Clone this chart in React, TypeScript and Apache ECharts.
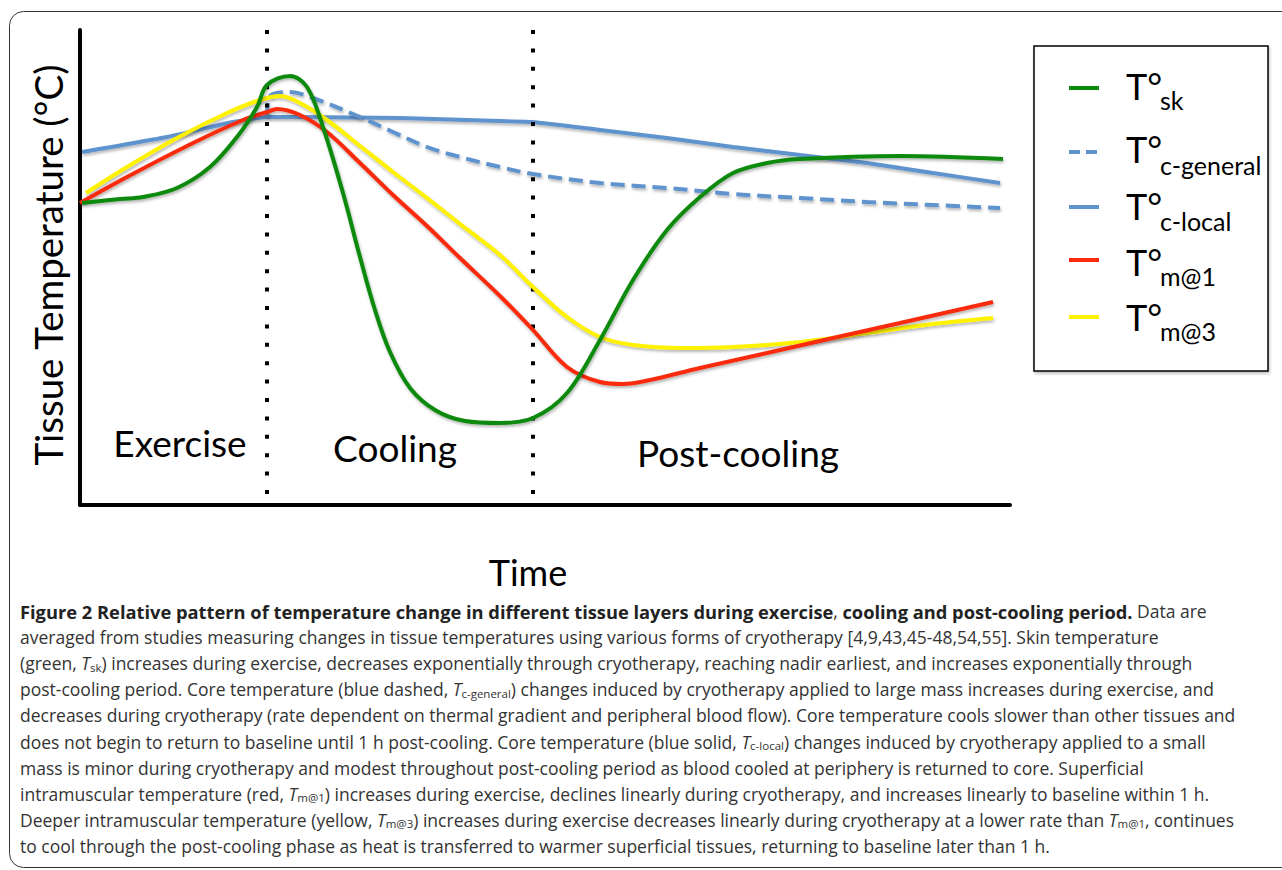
import React, { useEffect, useRef } from "react";
import * as echarts from "echarts";

// Time axis (arbitrary units) and relative tissue temperature (arbitrary units)
const phaseLabels = ["Exercise", "Cooling", "Post-cooling"];
const phaseBoundaries = [18.7, 45.3];
const seriesNames = ["T°sk", "T°c-general", "T°c-local", "T°m@1", "T°m@3"];
const legendMain = ["T°", "T°", "T°", "T°", "T°"];
const legendSub = ["sk", "c-general", "c-local", "m@1", "m@3"];

const skinTemp: [number, number][] = [
  [0.2, 60.4], [4.0, 61.2], [6.3, 61.6], [9.7, 63.4], [13.0, 67.6], [15.7, 73.6],
  [17.7, 79.6], [18.7, 84.0], [21.0, 85.8], [22.7, 83.6], [24.3, 75.6], [26.3, 62.4],
  [28.0, 49.6], [29.5, 39.0], [31.0, 30.6], [33.0, 23.4], [35.5, 19.0], [38.5, 16.8],
  [42.0, 16.4], [45.3, 17.4], [48.7, 22.4], [52.0, 33.0], [55.3, 45.0], [58.7, 55.0],
  [62.0, 61.6], [65.3, 66.4], [68.7, 68.4], [72.0, 69.2], [82.0, 69.8], [92.3, 69.2],
];
const coreGeneral: [number, number][] = [
  [18.7, 77.6], [19.0, 81.8], [21.0, 82.6], [23.3, 81.4], [28.0, 77.6], [31.3, 74.6],
  [34.7, 71.6], [38.0, 69.6], [42.0, 67.6], [45.3, 66.2], [52.0, 64.4], [58.7, 63.4],
  [65.3, 62.2], [72.0, 61.4], [78.7, 60.6], [85.3, 60.0], [92.0, 59.4],
];
const coreLocal: [number, number][] = [
  [0.2, 70.6], [8.7, 73.6], [15.3, 76.6], [18.7, 77.6], [22.0, 77.6], [32.0, 77.4],
  [42.0, 76.8], [45.3, 76.6], [52.0, 75.0], [58.7, 73.4], [65.3, 71.6], [72.0, 70.0],
  [78.7, 68.4], [85.3, 66.4], [92.0, 64.4],
];
const muscle1: [number, number][] = [
  [0.0, 60.4], [4.7, 65.6], [11.3, 72.4], [16.3, 77.0], [18.7, 78.6], [19.7, 79.2],
  [22.0, 78.0], [24.7, 74.6], [28.0, 68.4], [31.3, 62.0], [34.7, 55.8], [38.0, 49.4],
  [42.0, 41.8], [45.3, 35.0], [48.7, 27.6], [52.0, 24.6], [54.3, 24.2], [57.0, 25.0],
  [62.0, 27.4], [68.7, 30.4], [75.3, 33.4], [82.0, 36.4], [91.3, 40.6],
];
const muscle3: [number, number][] = [
  [0.6, 62.4], [4.7, 67.6], [9.7, 73.4], [14.7, 78.4], [18.0, 81.0], [20.0, 81.8],
  [22.0, 80.4], [24.7, 77.0], [28.0, 71.8], [31.3, 66.6], [34.7, 61.4], [38.0, 56.2],
  [42.0, 50.0], [45.3, 43.6], [48.7, 37.6], [52.0, 33.6], [55.3, 32.0], [60.3, 31.4],
  [65.3, 31.6], [72.0, 32.6], [78.7, 34.4], [85.3, 36.2], [91.3, 37.4],
];

const GREEN = "#0a8a0a";
const BLUE = "#5f93cd";
const RED = "#fa2a0c";
const YELLOW = "#fff200";
const colors = [GREEN, BLUE, BLUE, RED, YELLOW];
const dashed = [false, true, false, false, false];

const captionLines: string[] = [
  "{b|Figure 2 Relative pattern of temperature change in different tissue layers during exercise}{r|, }{b|cooling and post-cooling period.}{r| Data are}",
  "{r|averaged from studies measuring changes in tissue temperatures using various forms of cryotherapy [4,9,43,45-48,54,55]. Skin temperature}",
  "{r|(green, }{i|T}{s|sk}{r|) increases during exercise, decreases exponentially through cryotherapy, reaching nadir earliest, and increases exponentially through}",
  "{r|post-cooling period. Core temperature (blue dashed, }{i|T}{s|c-general}{r|) changes induced by cryotherapy applied to large mass increases during exercise, and}",
  "{r|decreases during cryotherapy (rate dependent on thermal gradient and peripheral blood flow). Core temperature cools slower than other tissues and}",
  "{r|does not begin to return to baseline until 1 h post-cooling. Core temperature (blue solid, }{i|T}{s|c-local}{r|) changes induced by cryotherapy applied to a small}",
  "{r|mass is minor during cryotherapy and modest throughout post-cooling period as blood cooled at periphery is returned to core. Superficial}",
  "{r|intramuscular temperature (red, }{i|T}{s|m@1}{r|) increases during exercise, declines linearly during cryotherapy, and increases linearly to baseline within 1 h.}",
  "{r|Deeper intramuscular temperature (yellow, }{i|T}{s|m@3}{r|) increases during exercise decreases linearly during cryotherapy at a lower rate than }{i|T}{s|m@1}{r|, continues}",
  "{r|to cool through the post-cooling phase as heat is transferred to warmer superficial tissues, returning to baseline later than 1 h.}",
];

const LABEL_FONT = "Lato, 'Open Sans', sans-serif";
const CAP_FONT = "'Open Sans', 'Noto Sans', sans-serif";

export default function App() {
  const ref = useRef<HTMLDivElement>(null);
  useEffect(() => {
    document.body.style.margin = "0";
    if (!ref.current) return;
    const chart = echarts.init(ref.current, undefined, { renderer: "svg" });
    const datasets = [skinTemp, coreGeneral, coreLocal, muscle1, muscle3];
    const shadow = {
      shadowColor: "rgba(0,0,0,0.3)",
      shadowBlur: 3,
      shadowOffsetX: 1,
      shadowOffsetY: 2,
    };
    // draw order: blue solid, blue dashed, yellow, red, green
    const order = [2, 1, 4, 3, 0];
    const series: any[] = order.map((idx, k) => ({
      type: "line",
      name: seriesNames[idx],
      data: datasets[idx],
      smooth: idx === 2 ? 0.15 : 0.35,
      showSymbol: false,
      symbol: "none",
      silent: true,
      z: 3 + k,
      lineStyle: {
        color: colors[idx],
        width: 4,
        type: dashed[idx] ? [14, 7] : "solid",
        cap: "butt",
        ...shadow,
      },
    }));
    series[0].markLine = {
      symbol: ["none", "none"],
      silent: true,
      label: { show: false },
      lineStyle: { color: "#000", width: 4, type: [4, 14.4], cap: "butt" },
      data: phaseBoundaries.map((b) => [{ coord: [b, 95] }, { coord: [b, 2] }]),
    };

    const legendY = [86, 149, 206, 262, 317];
    const legendLineY = [88, 152, 207, 260, 317];
    const subY = [100, 165, 221, 276, 331];
    const legendEls: any[] = [
      {
        type: "rect",
        shape: { x: 1034, y: 46, width: 234, height: 325 },
        style: {
          fill: "#fff",
          stroke: "#000",
          lineWidth: 1.5,
          shadowColor: "rgba(0,0,0,0.25)",
          shadowBlur: 3,
          shadowOffsetX: 1,
          shadowOffsetY: 2,
        },
        z: 10,
      },
    ];
    legendSub.forEach((sub, i) => {
      legendEls.push({
        type: "line",
        shape: { x1: 1069, y1: legendLineY[i], x2: 1099, y2: legendLineY[i] },
        style: {
          stroke: colors[i],
          lineWidth: 4,
          lineDash: dashed[i] ? [11, 6] : "solid",
        },
        z: 11,
      });
      legendEls.push({
        type: "text",
        x: 1126,
        y: legendY[i],
        style: {
          text: legendMain[i],
          font: `36px ${LABEL_FONT}`,
          fill: "#000",
          align: "left",
          verticalAlign: "middle",
        },
        z: 11,
      });
      legendEls.push({
        type: "text",
        x: 1160,
        y: subY[i],
        style: {
          text: sub,
          font: `25px ${LABEL_FONT}`,
          fill: "#000",
          align: "left",
          verticalAlign: "middle",
        },
        z: 11,
      });
    });

    const phaseX = [180, 395, 738];
    const phaseY = [442, 447, 452];
    const phaseEls = phaseLabels.map((t, i) => ({
      type: "text",
      x: phaseX[i],
      y: phaseY[i],
      style: {
        text: t,
        font: `37px ${LABEL_FONT}`,
        fill: "#000",
        align: "center",
        verticalAlign: "middle",
      },
      z: 12,
    }));

    const captionEls = captionLines.map((line, i) => ({
      type: "text",
      x: 20,
      y: 611 + i * 26.1,
      style: {
        text: line,
        fill: "#222",
        align: "left",
        verticalAlign: "middle",
        rich: {
          b: { fontFamily: CAP_FONT, fontSize: 18.3, fontWeight: "bold", fill: "#222", lineHeight: 20 },
          r: { fontFamily: CAP_FONT, fontSize: 17.5, fill: "#333", lineHeight: 20 },
          i: { fontFamily: CAP_FONT, fontSize: 17.5, fontStyle: "italic", fill: "#333", lineHeight: 20 },
          s: { fontFamily: CAP_FONT, fontSize: 11.5, fill: "#333", lineHeight: 20, verticalAlign: "bottom" },
        },
      },
      z: 12,
    }));

    chart.setOption({
      animation: false,
      backgroundColor: "#fff",
      grid: { left: 80, top: 30, width: 930, height: 475, containLabel: false },
      xAxis: {
        type: "value",
        min: 0,
        max: 93,
        axisLine: {
          show: true,
          onZero: false,
          lineStyle: { color: "#000", width: 4 },
        },
        axisTick: { show: false },
        axisLabel: { show: false },
        splitLine: { show: false },
      },
      yAxis: {
        type: "value",
        min: 0,
        max: 95,
        axisLine: {
          show: true,
          onZero: false,
          lineStyle: { color: "#000", width: 4 },
        },
        axisTick: { show: false },
        axisLabel: { show: false },
        splitLine: { show: false },
      },
      series,
      graphic: [
        {
          type: "rect",
          shape: { x: 9.5, y: 11.5, width: 1300, height: 856, r: 14 },
          style: { fill: "none", stroke: "#333", lineWidth: 1 },
          silent: true,
          z: 1,
        },
        {
          type: "text",
          x: 48,
          y: 265,
          rotation: Math.PI / 2,
          style: {
            text: "Tissue Temperature (°C)",
            font: `38.5px ${LABEL_FONT}`,
            fill: "#000",
            align: "center",
            verticalAlign: "middle",
          },
          z: 12,
        },
        {
          type: "text",
          x: 528,
          y: 572,
          style: {
            text: "Time",
            font: `36px ${LABEL_FONT}`,
            fill: "#000",
            align: "center",
            verticalAlign: "middle",
          },
          z: 12,
        },
        ...phaseEls,
        ...legendEls,
        ...captionEls,
      ],
    });
    return () => chart.dispose();
  }, []);
  return <div ref={ref} style={{ width: 1282, height: 870 }} />;
}
